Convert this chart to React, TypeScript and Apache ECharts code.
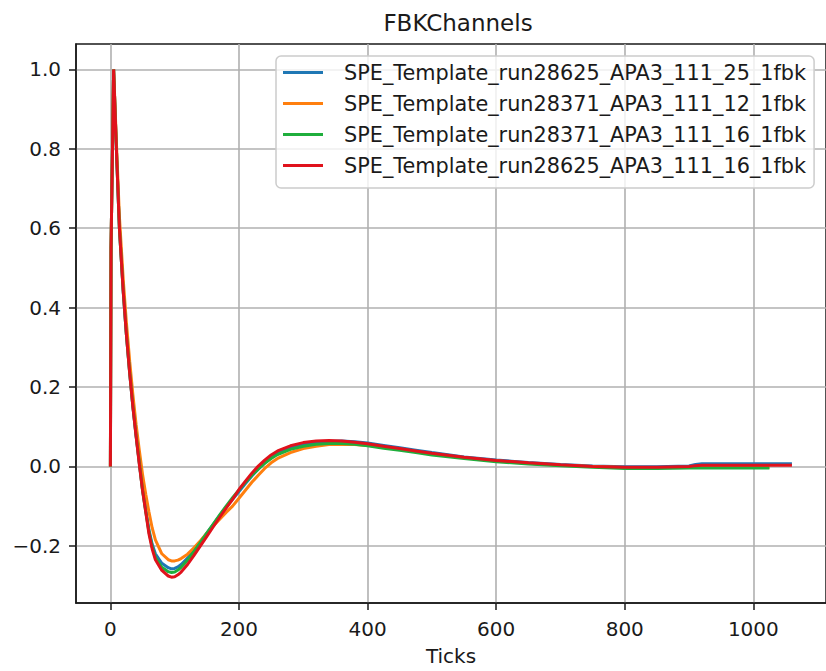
import React, { useEffect, useRef } from "react";
import * as echarts from "echarts";

// Sample positions (ticks) shared by all four templates
const ticks = [
  0, 1, 5, 10, 14, 20, 25, 30, 35, 40, 45, 50, 55, 60, 65, 70, 80, 90, 95, 100,
  105, 110, 120, 130, 140, 150, 160, 170, 180, 190, 200, 210, 220, 230, 240,
  250, 260, 280, 300, 320, 340, 360, 380, 400, 425, 450, 475, 500, 550, 600,
  650, 700, 750, 800, 850, 900, 910, 920, 950, 1000, 1025, 1060,
];

const seriesNames = [
  "SPE_Template_run28625_APA3_111_25_1fbk",
  "SPE_Template_run28371_APA3_111_12_1fbk",
  "SPE_Template_run28371_APA3_111_16_1fbk",
  "SPE_Template_run28625_APA3_111_16_1fbk",
];

const run28625_25 = [
  0, 0.55, 1.0, 0.77, 0.6, 0.44, 0.33, 0.235, 0.15, 0.077,
  0.008, -0.058, -0.11, -0.16, -0.196, -0.22, -0.244, -0.255, -0.258, -0.257,
  -0.253, -0.247, -0.231, -0.211, -0.19, -0.168, -0.146, -0.124, -0.103, -0.083,
  -0.063, -0.043, -0.024, -0.007, 0.009, 0.022, 0.033, 0.047, 0.056, 0.061,
  0.063, 0.064, 0.062, 0.059, 0.053, 0.047, 0.041, 0.035, 0.024, 0.016,
  0.01, 0.005, 0.001, -0.001, -0.001, 0.001, 0.005, 0.007, 0.007, 0.007,
  0.007, 0.007,
];

const run28371_12 = [
  0, 0.55, 1.0, 0.79, 0.63, 0.47, 0.36, 0.265, 0.18, 0.105,
  0.04, -0.02, -0.07, -0.115, -0.155, -0.185, -0.22, -0.235, -0.238, -0.238,
  -0.236, -0.232, -0.221, -0.205, -0.187, -0.168, -0.15, -0.133, -0.116, -0.1,
  -0.08, -0.06, -0.04, -0.022, -0.005, 0.009, 0.02, 0.035, 0.045, 0.051,
  0.055, 0.056, 0.055, 0.053, 0.048, 0.043, 0.037, 0.031, 0.022, 0.014,
  0.008, 0.003, 0.0, -0.003, -0.003, -0.003, -0.003, -0.003, -0.003, -0.003,
  -0.003, null,
];

const run28371_16 = [
  0, 0.55, 1.0, 0.77, 0.6, 0.44, 0.33, 0.237, 0.152, 0.078,
  0.01, -0.06, -0.114, -0.165, -0.203, -0.229, -0.254, -0.265, -0.267, -0.266,
  -0.261, -0.254, -0.236, -0.214, -0.191, -0.168, -0.145, -0.122, -0.1, -0.079,
  -0.059, -0.04, -0.022, -0.006, 0.008, 0.02, 0.03, 0.043, 0.051, 0.056,
  0.058, 0.058, 0.056, 0.052, 0.046, 0.041, 0.035, 0.029, 0.02, 0.012,
  0.006, 0.002, -0.002, -0.005, -0.005, -0.004, -0.004, -0.004, -0.004, -0.004,
  -0.004, null,
];

const run28625_16 = [
  0, 0.55, 1.0, 0.77, 0.6, 0.44, 0.33, 0.235, 0.15, 0.075,
  0.005, -0.06, -0.115, -0.17, -0.208, -0.235, -0.262, -0.276, -0.279, -0.278,
  -0.273, -0.266, -0.247, -0.224, -0.2, -0.176, -0.152, -0.128, -0.105, -0.083,
  -0.058, -0.037, -0.017, 0.001, 0.016, 0.029, 0.039, 0.052, 0.06, 0.064,
  0.065, 0.064, 0.061, 0.057, 0.051, 0.045, 0.039, 0.033, 0.023, 0.015,
  0.009, 0.004, 0.0, -0.002, -0.002, 0.0, 0.002, 0.003, 0.003, 0.003,
  0.003, 0.003,
];

const xTickValues = [0, 200, 400, 600, 800, 1000];
const yTickValues = [-0.2, 0, 0.2, 0.4, 0.6, 0.8, 1.0];

const colors = ["#1f77b4", "#ff7f0e", "#1fae3c", "#e0121c"];
const FONT = "DejaVu Sans";

function toPairs(values: (number | null)[]) {
  const out: [number, number][] = [];
  values.forEach((v, i) => {
    if (v !== null) out.push([ticks[i], v]);
  });
  return out;
}

export default function App() {
  const ref = useRef<HTMLDivElement>(null);

  useEffect(() => {
    if (!ref.current) return;
    const chart = echarts.init(ref.current, undefined, { renderer: "svg" });
    const allSeries = [run28625_25, run28371_12, run28371_16, run28625_16];

    chart.setOption({
      animation: false,
      backgroundColor: "#ffffff",
      title: {
        text: "FBKChannels",
        left: 453,
        top: 6,
        textAlign: "center",
        textStyle: { fontFamily: FONT, fontSize: 23, fontWeight: "normal", color: "#1a1a1a" },
      },
      grid: {
        left: 76,
        top: 44,
        width: 759,
        height: 565,
        show: true,
        borderColor: "#1a1a1a",
        borderWidth: 1.5,
        backgroundColor: "transparent",
      },
      legend: {
        orient: "vertical",
        left: 276,
        top: 56,
        padding: [5, 8, 11, 7],
        itemWidth: 40,
        itemHeight: 3,
        itemGap: 8,
        icon: "rect",
        backgroundColor: "rgba(255,255,255,0.8)",
        borderColor: "#cccccc",
        borderWidth: 1.5,
        borderRadius: 5,
        data: seriesNames,
        textStyle: {
          fontFamily: FONT,
          fontSize: 20.8,
          color: "#1a1a1a",
          padding: [0, 0, 0, 16],
          lineHeight: 23,
        },
      },
      xAxis: {
        type: "value",
        min: -53.5,
        max: 1113,
        name: "Ticks",
        nameLocation: "middle",
        nameGap: 43,
        nameTextStyle: { fontFamily: FONT, fontSize: 20, color: "#1a1a1a" },
        axisLine: { show: true, onZero: false, lineStyle: { color: "#1a1a1a", width: 1.5 } },
        axisTick: {
          show: true,
          length: 7,
          customValues: xTickValues,
          lineStyle: { color: "#1a1a1a", width: 1.5 },
        },
        axisLabel: {
          customValues: xTickValues,
          margin: 16,
          fontFamily: FONT,
          fontSize: 20,
          color: "#1a1a1a",
          formatter: (v: number) => String(v),
        },
        splitLine: { show: true, lineStyle: { color: "#b0b0b0", width: 1.6 } },
      },
      yAxis: {
        type: "value",
        min: -0.344,
        max: 1.064,
        axisLine: { show: true, onZero: false, lineStyle: { color: "#1a1a1a", width: 1.5 } },
        axisTick: {
          show: true,
          length: 7,
          customValues: yTickValues,
          lineStyle: { color: "#1a1a1a", width: 1.5 },
        },
        axisLabel: {
          customValues: yTickValues,
          margin: 15,
          fontFamily: FONT,
          fontSize: 20,
          color: "#1a1a1a",
          formatter: (v: number) => (v < -1e-9 ? "\u2212" : "") + Math.abs(v).toFixed(1),
        },
        splitLine: { show: true, lineStyle: { color: "#b0b0b0", width: 1.6 } },
      },
      series: allSeries.map((vals, i) => ({
        name: seriesNames[i],
        type: "line",
        data: toPairs(vals),
        showSymbol: false,
        symbol: "none",
        clip: true,
        lineStyle: { color: colors[i], width: 3 },
        itemStyle: { color: colors[i] },
        z: 3 + i,
      })),
    });

    return () => chart.dispose();
  }, []);

  return (
    <div
      ref={ref}
      style={{ position: "absolute", left: 0, top: 0, width: 826, height: 671 }}
    />
  );
}
